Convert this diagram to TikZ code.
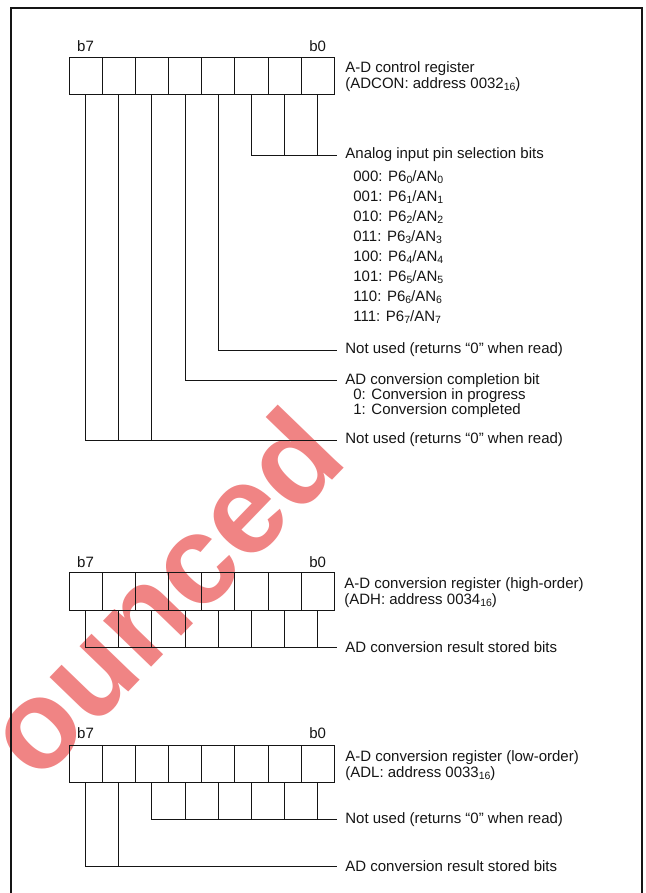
\documentclass[tikz,border=0pt]{standalone}
\usepackage{fontspec}
\setmainfont{Liberation Sans}
\usetikzlibrary{positioning}
\definecolor{ink}{HTML}{151515}
\definecolor{stamp}{HTML}{F08484}
\newcommand\lo[1]{\raisebox{-0.2ex}{\fontsize{10.5}{10.5}\selectfont #1}}
\newcommand\regfont{\fontsize{15}{16}\selectfont}

\begin{document}
\begin{tikzpicture}[x=1pt,y=-1pt,line width=0.8pt,
  cell/.style={draw=ink,minimum width=33.15pt,minimum height=37.5pt,inner sep=0pt,outer sep=0pt},
  bitno/.style={inner sep=0pt,font=\regfont,text=ink},
  note/.style={anchor=west,inner xsep=8pt,inner ysep=0pt,font=\regfont,text=ink},
  item/.style={anchor=west,inner sep=0pt,font=\regfont,text=ink},
  title/.style={anchor=north west,inner sep=0pt,align=left,font=\regfont,text=ink}]
  \useasboundingbox (0,0) rectangle (645,893);
  \clip (0,0) rectangle (645,893);
  % watermark
  \node[rotate=46,text=stamp,font=\bfseries\fontsize{126}{126}\selectfont,inner sep=0pt] (mark) at (162,592) {ounced};
  % frame
  \draw[ink,line width=2pt] (11,900) -- (11,8) -- (642,8) -- (642,900);

  % ADCON
  \foreach \i in {7,...,0}
    \node[cell] (con\i) at ({69+33.15*(7-\i)+16.575},76) {};
  \node[bitno,above=5pt of con7] (con7n) {b7};
  \node[bitno,above=5pt of con0] (con0n) {b0};
  \node[title] (contitle) at (345,61.5) {A-D control register\\(ADCON: address 0032\lo{16})};
  \node[note] (sel) at (337,155) {Analog input pin selection bits};
  \foreach \b/\k in {000/0,001/1,010/2,011/3,100/4,101/5,110/6,111/7}
    \node[item] (pin\k) at (353,177+20*\k) {\b: P6\lo{\k}/AN\lo{\k}};
  \node[note] (nu1) at (337,350) {Not used (returns “0” when read)};
  \node[note] (done) at (337,380.5) {AD conversion completion bit};
  \node[item] (done0) at (353,395.5) {0: Conversion in progress};
  \node[item] (done1) at (353,411) {1: Conversion completed};
  \node[note] (nu2) at (337,440) {Not used (returns “0” when read)};
  \foreach \i in {2,1,0}
    \draw[ink] (con\i.south) |- (sel.west);
  \draw[ink] (con3.south) |- (nu1.west);
  \draw[ink] (con4.south) |- (done.west);
  \foreach \i in {7,6,5}
    \draw[ink] (con\i.south) |- (nu2.west);

  % ADH
  \foreach \i in {7,...,0}
    \node[cell] (adh\i) at ({69+33.15*(7-\i)+16.575},591.3) {};
  \node[bitno,above=5pt of adh7] (adh7n) {b7};
  \node[bitno,above=5pt of adh0] (adh0n) {b0};
  \node[title] (adhtitle) at (344,577.5) {A-D conversion register (high-order)\\(ADH: address 0034\lo{16})};
  \node[note] (hres) at (337,647.3) {AD conversion result stored bits};
  \foreach \i in {7,...,0}
    \draw[ink] (adh\i.south) |- (hres.west);

  % ADL
  \foreach \i in {7,...,0}
    \node[cell] (adl\i) at ({69+33.15*(7-\i)+16.575},763.7) {};
  \node[bitno,above=6pt of adl7] (adl7n) {b7};
  \node[bitno,above=6pt of adl0] (adl0n) {b0};
  \node[title] (adltitle) at (345,750.5) {A-D conversion register (low-order)\\(ADL: address 0033\lo{16})};
  \node[note] (lnu) at (337,819.3) {Not used (returns “0” when read)};
  \node[note] (lres) at (337,866) {AD conversion result stored bits};
  \foreach \i in {5,...,0}
    \draw[ink] (adl\i.south) |- (lnu.west);
  \foreach \i in {7,6}
    \draw[ink] (adl\i.south) |- (lres.west);
\end{tikzpicture}
\end{document}
